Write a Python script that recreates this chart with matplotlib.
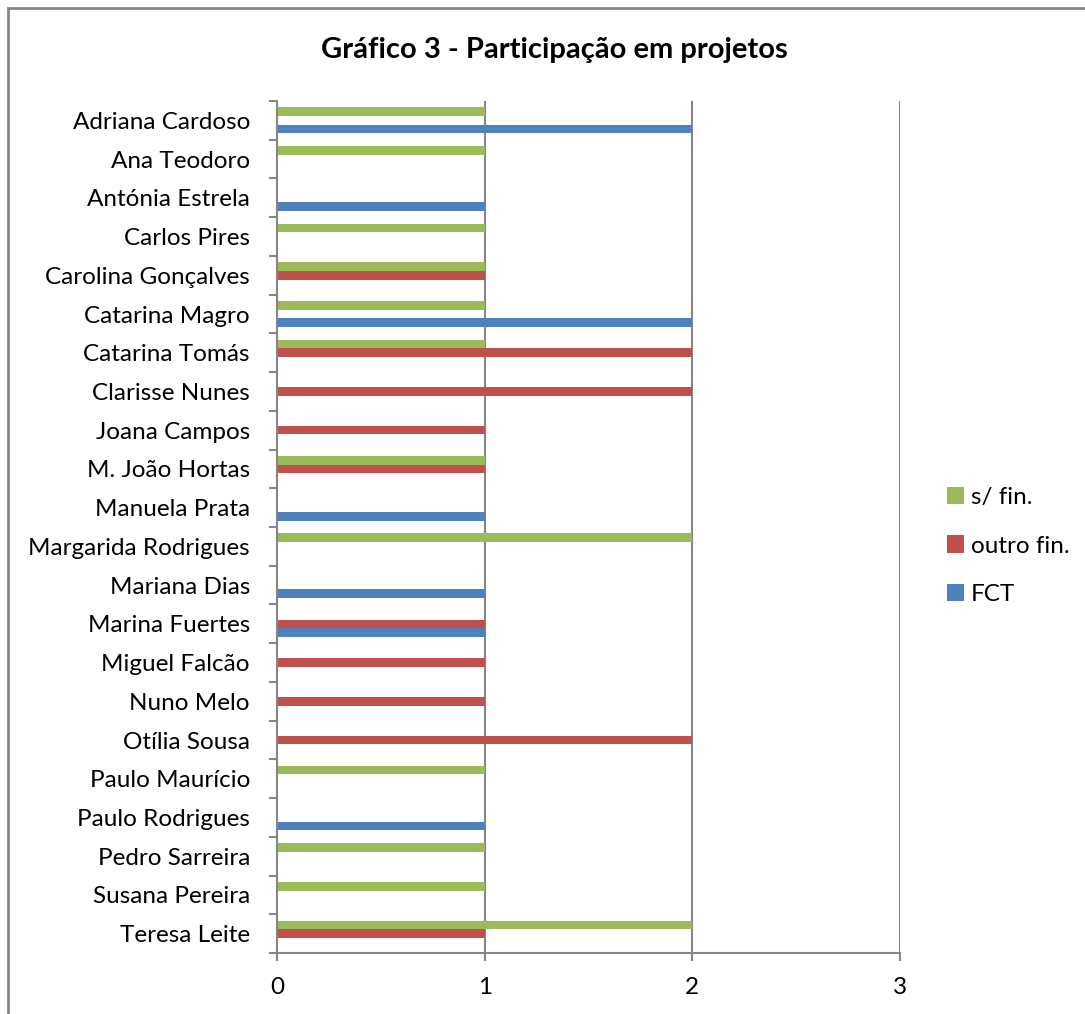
import numpy as np
import matplotlib.pyplot as plt
from matplotlib.patches import Rectangle

plt.rcParams['font.family'] = ['Lato', 'DejaVu Sans']

names = ["Adriana Cardoso", "Ana Teodoro", "Antónia Estrela", "Carlos Pires",
         "Carolina Gonçalves", "Catarina Magro", "Catarina Tomás", "Clarisse Nunes",
         "Joana Campos", "M. João Hortas", "Manuela Prata", "Margarida Rodrigues",
         "Mariana Dias", "Marina Fuertes", "Miguel Falcão", "Nuno Melo",
         "Otília Sousa", "Paulo Maurício", "Paulo Rodrigues", "Pedro Sarreira",
         "Susana Pereira", "Teresa Leite"]

fct      = [2, 0, 1, 0, 0, 2, 0, 0, 0, 0, 1, 0, 1, 1, 0, 0, 0, 0, 1, 0, 0, 0]
outro    = [0, 0, 0, 0, 1, 0, 2, 2, 1, 1, 0, 0, 0, 1, 1, 1, 2, 0, 0, 0, 0, 1]
sem_fin  = [1, 1, 0, 1, 1, 1, 1, 0, 0, 1, 0, 2, 0, 0, 0, 0, 0, 1, 0, 1, 1, 2]

c_green = "#9BBB59"
c_red   = "#C0504D"
c_blue  = "#4F81BD"
grey    = "#868686"

fig = plt.figure(figsize=(10.85, 10.14), dpi=100)
ax = fig.add_axes([277/1085, 61/1014, 623/1085, 852/1014])

n = len(names)
y = np.arange(n)
h = 1/4.5

ax.barh(y - h, sem_fin, height=h, color=c_green, label="s/ fin.")
ax.barh(y, outro, height=h, color=c_red, label="outro fin.")
ax.barh(y + h, fct, height=h, color=c_blue, label="FCT")

ax.set_ylim(n - 0.5, -0.5)
ax.set_xlim(0, 3)
ax.set_xticks([0, 1, 2, 3])
ax.set_xticklabels(["0", "1", "2", "3"], fontsize=17.5)
ax.set_yticks(y)
ax.set_yticklabels(names, fontsize=17.5)
ax.tick_params(axis='y', length=0, pad=19.5)
ax.set_yticks(np.arange(n + 1) - 0.5, minor=True)
ax.tick_params(axis='y', which='minor', length=6, color=grey, width=1.5)
ax.tick_params(axis='x', length=6, color=grey, width=1.5, pad=11)

for xv in [1, 2, 3]:
    ax.axvline(xv, color=grey, lw=1.5, zorder=0)

for s in ['top', 'right']:
    ax.spines[s].set_visible(False)
for s in ['left', 'bottom']:
    ax.spines[s].set_color(grey)
    ax.spines[s].set_linewidth(1.5)

fig.text(554/1085, 1 - 50/1014, "Gráfico 3 - Participação em projetos",
         ha='center', va='center', fontsize=21, fontweight='bold')

leg = fig.legend(loc='center left', bbox_to_anchor=(925/1085, 1 - 546/1014),
                 frameon=False, fontsize=17.5, handlelength=0.7, handleheight=0.7,
                 handletextpad=0.3, labelspacing=1.15)

fig.patches.append(Rectangle((8/1085, -0.1), 1.2, 1 - 8/1014 + 0.1,
                             transform=fig.transFigure, fill=False,
                             edgecolor=grey, lw=2))

fig.savefig("out.png", dpi=100)
